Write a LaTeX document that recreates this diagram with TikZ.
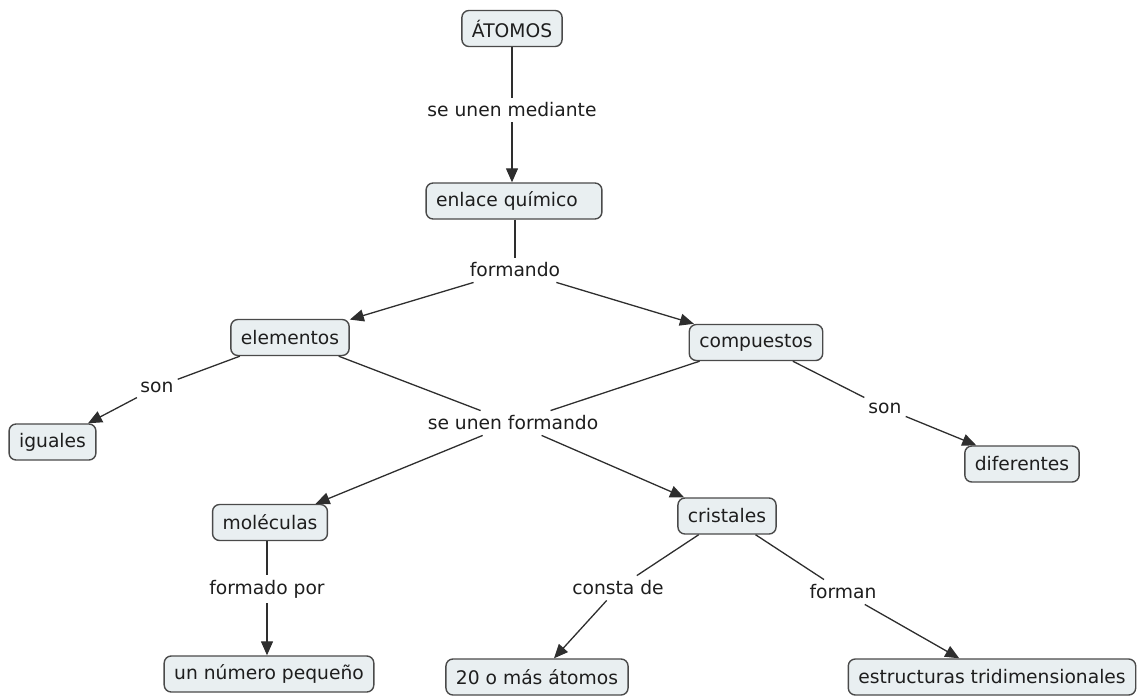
\documentclass[tikz,border=0pt]{standalone}
\usepackage{fontspec}
\setmainfont{DejaVu Sans}
\usetikzlibrary{arrows.meta}
\definecolor{boxfill}{HTML}{E9EFF1}
\definecolor{boxline}{HTML}{4A4A4A}
\definecolor{linec}{HTML}{2E2E2E}
\definecolor{textc}{HTML}{1E1E1E}
\begin{document}
\begin{tikzpicture}[x=1pt,y=-1pt,
  concept/.style={draw=boxline, fill=boxfill, rounded corners=7pt, line width=1.4pt,
    minimum height=36pt, inner xsep=10pt, inner ysep=2pt,
    font=\fontsize{18.7}{21}\selectfont, text=textc},
  linkword/.style={fill=white, inner xsep=4pt, inner ysep=5pt,
    font=\fontsize{18.7}{21}\selectfont, text=textc},
  conn/.style={draw=linec, line width=1.3pt},
  arr/.style={conn, -{Triangle[length=14pt,width=12pt]}}]
\useasboundingbox (0,0) rectangle (1137,696);

% concepts
\node[concept] (atomos) at (512,28.5) {ÁTOMOS};
\node[concept, minimum width=168pt] (enlace) at (514,201) {enlace químico\hspace*{14pt}};
\node[concept] (elementos) at (290,337.5) {elementos};
\node[concept] (compuestos) at (756,342.5) {compuestos};
\node[concept] (iguales) at (52.5,442) {iguales};
\node[concept] (diferentes) at (1022,464) {diferentes};
\node[concept] (moleculas) at (270,522.5) {moléculas};
\node[concept] (cristales) at (727,516) {cristales};
\node[concept] (numero) at (269,674) {un número pequeño};
\node[concept] (veinte) at (537,677) {20 o más átomos};
\node[concept] (estructuras) at (992,677) {estructuras tridimensionales};

% linking words
\node[linkword] (l1) at (512,110) {se unen mediante};
\node[linkword] (l2) at (515,270) {formando};
\node[linkword] (sonL) at (157,387) {son};
\node[linkword] (l3) at (513,423) {se unen formando};
\node[linkword] (sonR) at (885,408) {son};
\node[linkword] (formado) at (267,589) {formado por};
\node[linkword] (consta) at (618,588) {consta de};
\node[linkword] (forman) at (843,592) {forman};

% connectors
\draw[conn] (atomos) -- (atomos |- l1.north);
\draw[arr] (l1) -- (l1 |- enlace.north);
\draw[conn] (l2 |- enlace.south) -- (l2);
\draw[arr] (l2) -- (elementos);
\draw[arr] (l2) -- (compuestos);
\draw[conn] (elementos) -- (sonL);
\draw[arr] (sonL) -- (iguales);
\draw[conn] (elementos) -- (l3);
\draw[conn] (compuestos) -- (l3);
\draw[arr] (l3) -- (moleculas);
\draw[arr] (l3) -- (cristales);
\draw[conn] (compuestos) -- (sonR);
\draw[arr] (sonR) -- (diferentes);
\draw[conn] (formado |- moleculas.south) -- (formado);
\draw[arr] (formado) -- (formado |- numero.north);
\draw[conn] (cristales) -- (consta);
\draw[arr] (consta) -- (veinte);
\draw[conn] (cristales) -- (forman);
\draw[arr] (forman) -- (estructuras);
\end{tikzpicture}
\end{document}
